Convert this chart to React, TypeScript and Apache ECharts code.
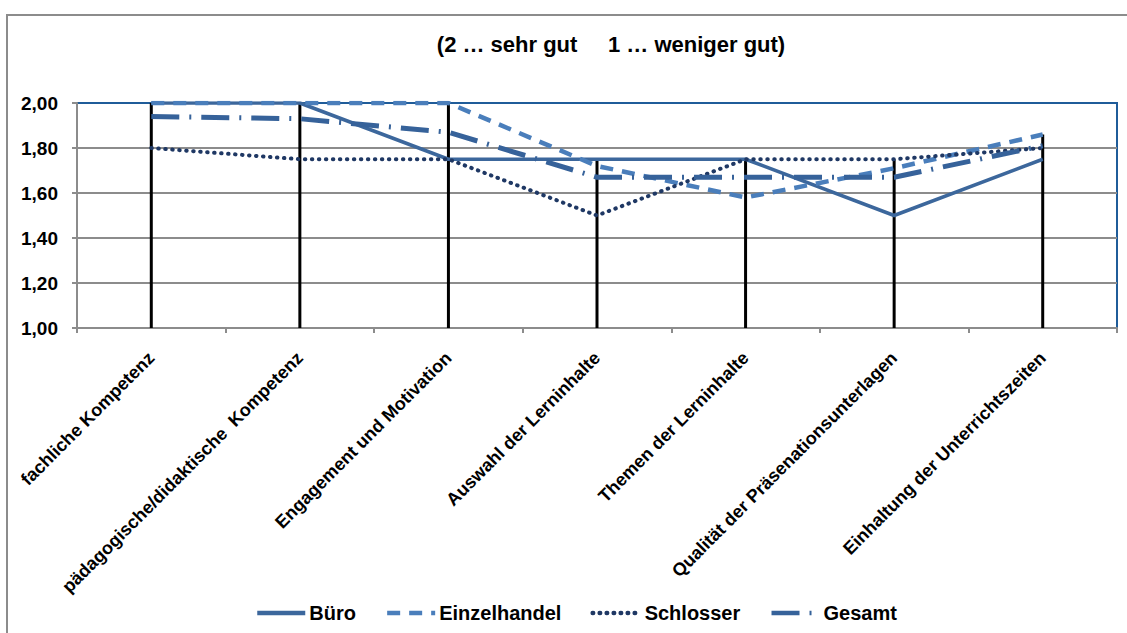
import React, { useEffect, useRef } from "react";
import * as echarts from "echarts";

const categories = [
  "fachliche Kompetenz",
  "pädagogische/didaktische  Kompetenz",
  "Engagement und Motivation",
  "Auswahl der Lerninhalte",
  "Themen der Lerninhalte",
  "Qualität der Präsenationsunterlagen",
  "Einhaltung der Unterrichtszeiten",
];

const buero = [2.0, 2.0, 1.75, 1.75, 1.75, 1.5, 1.75];
const einzelhandel = [2.0, 2.0, 2.0, 1.72, 1.58, 1.71, 1.86];
const schlosser = [1.8, 1.75, 1.75, 1.5, 1.75, 1.75, 1.8];
const gesamt = [1.94, 1.93, 1.87, 1.67, 1.67, 1.67, 1.81];

const seriesNames = ["Büro", "Einzelhandel", "Schlosser", "Gesamt"];
const titleText = "(2 … sehr gut     1 … weniger gut)";

const FONT = "'Liberation Sans', Arial, sans-serif";

export default function App() {
  const ref = useRef<HTMLDivElement>(null);

  useEffect(() => {
    if (!ref.current) return;
    const chart = echarts.init(ref.current, null, { renderer: "svg" });
    const dropLines = categories.map((_, i) =>
      Math.max(buero[i], einzelhandel[i], schlosser[i], gesamt[i])
    );
    const fmt = (v: number) => v.toFixed(2).replace(".", ",");

    chart.setOption({
      animation: false,
      backgroundColor: "#ffffff",
      textStyle: { fontFamily: FONT },
      graphic: [
        {
          type: "rect",
          shape: { x: 7, y: 15, width: 1140, height: 640 },
          style: { fill: "none", stroke: "#8c8c8c", lineWidth: 2 },
          silent: true,
          z: -1,
        },
      ],
      title: {
        text: titleText,
        left: 606,
        top: 28,
        textAlign: "center",
        textStyle: {
          fontFamily: FONT,
          fontWeight: "bold",
          fontSize: 22,
          color: "#000",
        },
      },
      legend: {
        data: seriesNames,
        left: 250,
        top: 598,
        itemWidth: 48,
        itemHeight: 14,
        itemGap: 29,
        itemStyle: { opacity: 0 },
        lineStyle: { width: 4.5 },
        textStyle: {
          fontFamily: FONT,
          fontWeight: "bold",
          fontSize: 20,
          color: "#000",
          padding: [0, 0, 0, -1],
        },
      },
      grid: {
        left: 77,
        right: 10,
        top: 103,
        bottom: 305,
        show: true,
        borderColor: "#1F5C99",
        borderWidth: 2,
        containLabel: false,
      },
      xAxis: {
        type: "category",
        data: categories,
        boundaryGap: true,
        axisLine: { lineStyle: { color: "#8c8c8c", width: 2 } },
        axisTick: { show: true, length: 5, lineStyle: { color: "#8c8c8c", width: 2 } },
        axisLabel: {
          interval: 0,
          rotate: 45,
          margin: 27,
          fontFamily: FONT,
          fontWeight: "bold",
          fontSize: 18,
          color: "#000",
        },
        splitLine: { show: false },
      },
      yAxis: {
        type: "value",
        min: 1,
        max: 2,
        interval: 0.2,
        axisLine: { show: true, lineStyle: { color: "#8c8c8c", width: 2 } },
        axisTick: { show: true, length: 5, lineStyle: { color: "#8c8c8c", width: 2 } },
        axisLabel: {
          formatter: (v: number) => fmt(v),
          margin: 19,
          fontFamily: FONT,
          fontWeight: "bold",
          fontSize: 19,
          color: "#000",
        },
        splitLine: {
          show: true,
          lineStyle: {
            color: ["#8c8c8c", "#8c8c8c", "#8c8c8c", "#8c8c8c", "#8c8c8c", "#1F5C99"],
            width: 2,
          },
        },
      },
      series: [
        {
          name: "drop",
          type: "bar",
          data: dropLines,
          barWidth: 3,
          itemStyle: { color: "#000" },
          silent: true,
          z: 1,
        },
        {
          name: "Büro",
          type: "line",
          data: buero,
          symbol: "none",
          lineStyle: { color: "#3C679C", width: 3.5, type: "solid" },
          itemStyle: { color: "#3C679C" },
          z: 3,
        },
        {
          name: "Einzelhandel",
          type: "line",
          data: einzelhandel,
          symbol: "none",
          lineStyle: { color: "#4A7EBB", width: 4.5, type: [13, 9] },
          itemStyle: { color: "#4A7EBB" },
          z: 3,
        },
        {
          name: "Schlosser",
          type: "line",
          data: schlosser,
          symbol: "none",
          lineStyle: { color: "#1F3864", width: 4, type: [0.5, 6.5], cap: "round" },
          itemStyle: { color: "#1F3864" },
          z: 3,
        },
        {
          name: "Gesamt",
          type: "line",
          data: gesamt,
          symbol: "none",
          lineStyle: { color: "#36629A", width: 5, type: [28, 10, 2, 10] },
          itemStyle: { color: "#36629A" },
          z: 3,
        },
      ],
    });
    return () => chart.dispose();
  }, []);

  return (
    <div
      ref={ref}
      style={{ position: "fixed", left: 0, top: 0, width: 1127, height: 633 }}
    />
  );
}
